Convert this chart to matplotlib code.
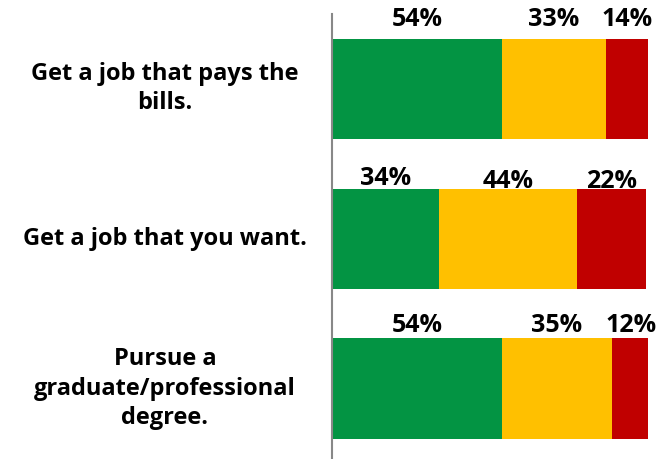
import matplotlib
matplotlib.use("Agg")
import matplotlib.pyplot as plt
import numpy as np

categories = ["Get a job that pays the\nbills.",
              "Get a job that you want.",
              "Pursue a\ngraduate/professional\ndegree."]
green_vals = [54, 34, 54]
yellow_vals = [33, 44, 35]
red_vals = [14, 22, 12]
colors = ["#039443", "#FFC000", "#C00000"]

plt.rcParams['font.family'] = ['Open Sans', 'DejaVu Sans']

fig = plt.figure(figsize=(6.59, 4.59), dpi=100)
ax = fig.add_axes([332/659, 0, 316/659, 445/459])

y = np.arange(len(categories))
series = [green_vals, yellow_vals, red_vals]
left = np.zeros(len(categories))
h = 0.667
# vertical nudge of value labels for each row, points
nudge = [[5, 5, 5], [-2, -4, -4], [0, 0, 0]]
for k, (vals, c) in enumerate(zip(series, colors)):
    vals = np.array(vals, dtype=float)
    ax.barh(y, vals, left=left, height=h, color=c, edgecolor='none')
    for i, v in enumerate(vals):
        ax.annotate(f"{int(v)}%", (left[i] + v / 2, y[i] - h / 2),
                    xytext=(0, nudge[i][k]), textcoords='offset points',
                    ha='center', va='bottom', fontsize=18, fontweight='bold')
    left += vals

ax.set_xlim(0, 100.5)
ax.set_ylim(2.47, -0.497)
for s in ['top', 'right', 'bottom']:
    ax.spines[s].set_visible(False)
ax.spines['left'].set_color('#888888')
ax.spines['left'].set_linewidth(1.5)
ax.set_xticks([])
ax.set_yticks(y)
ax.set_yticklabels([])
ax.tick_params(axis='y', length=0)

label_x = -(332 - 165) / 316
for i, cat in enumerate(categories):
    ax.text(label_x, y[i], cat, transform=ax.get_yaxis_transform(),
            ha='center', va='center', fontsize=17, fontweight='bold',
            linespacing=1.3)

fig.savefig("out.png", dpi=100)
